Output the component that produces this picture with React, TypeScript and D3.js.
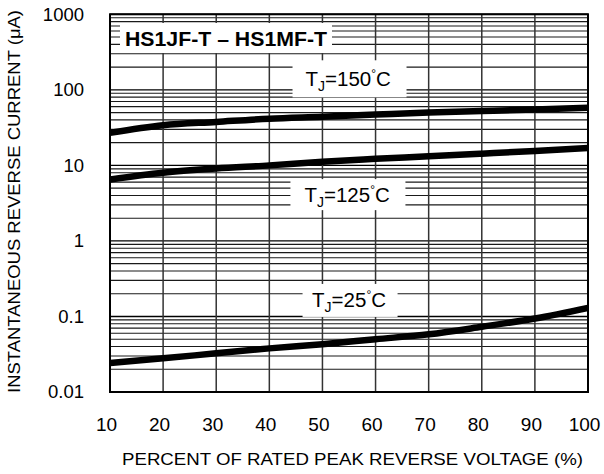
import React from "react";
import * as d3 from "d3";

const percents = [10, 20, 30, 40, 50, 60, 70, 80, 90, 100];
const tj150 = [27, 34, 37.6, 41.5, 44, 47, 50, 52.5, 55, 58];
const tj125 = [6.5, 8.0, 9.1, 10.0, 11.2, 12.2, 13.2, 14.3, 15.5, 17];
const tj25 = [0.0242, 0.0279, 0.0325, 0.0378, 0.043, 0.05, 0.058, 0.073, 0.094, 0.13];

const xTickValues = [10, 20, 30, 40, 50, 60, 70, 80, 90, 100];
const yTickValues = [0.01, 0.1, 1, 10, 100, 1000];
const yTickLabels = ["0.01", "0.1", "1", "10", "100", "1000"];

const title = "HS1JF-T – HS1MF-T";
const xTitle = "PERCENT OF RATED PEAK REVERSE VOLTAGE (%)";
const yTitle = "INSTANTANEOUS REVERSE CURRENT (μA)";

const seriesLabels = [
  { temp: "150", px: 55.1, val: 140, w: 114, h: 37, tx: -44, tw: 88 },
  { temp: "125", px: 54.8, val: 4.1, w: 115, h: 31, tx: -43.5, tw: 88 },
  { temp: "25", px: 55.2, val: 0.163, w: 95, h: 33, tx: -38, tw: 76 },
];

const W = 604;
const H = 474;
const left = 110;
const right = 588;
const top = 14.3;
const bottom = 392;
const FONT = "'Liberation Sans', Arial, sans-serif";

export default function App() {
  const x = d3.scaleLinear().domain([10, 100]).range([left, right]);
  const y = d3.scaleLog().domain([0.01, 1000]).range([bottom, top]);

  const minor: number[] = [];
  for (let e = -2; e < 3; e++) {
    for (let m = 1; m <= 9; m++) minor.push(m * Math.pow(10, e));
  }
  minor.push(1000);

  const line = d3
    .line<number>()
    .x((_, i) => x(percents[i]))
    .y((d) => y(d))
    .curve(d3.curveMonotoneX);

  const series = [tj150, tj125, tj25];

  return (
    <svg
      width={W}
      height={H}
      style={{ position: "absolute", left: 0, top: 0, background: "#fff" }}
      fontFamily={FONT}
    >
      <defs>
        <clipPath id="plotclip">
          <rect x={left} y={top} width={right - left} height={bottom - top} />
        </clipPath>
      </defs>
      <rect x={0} y={0} width={W} height={H} fill="#fff" />
      {minor.map((v, i) => {
        const major = Math.abs(Math.log10(v) - Math.round(Math.log10(v))) < 1e-9;
        return (
          <line
            key={"h" + i}
            x1={left}
            x2={right}
            y1={y(v)}
            y2={y(v)}
            stroke={major ? "#000" : "#1a1a1a"}
            strokeWidth={major ? 1.4 : 1.1}
          />
        );
      })}
      {xTickValues.map((v) => (
        <line
          key={"v" + v}
          x1={x(v)}
          x2={x(v)}
          y1={top}
          y2={bottom}
          stroke="#333"
          strokeWidth={1.5}
        />
      ))}
      {series.map((s, i) => (
        <path
          key={"s" + i}
          d={line(s) || ""}
          fill="none"
          stroke="#000"
          strokeWidth={6.5}
          strokeLinecap="butt"
          clipPath="url(#plotclip)"
        />
      ))}
      <rect x={120} y={23} width={212} height={30} fill="#fff" />
      <text x={125} y={46} fontSize={21} fontWeight="bold" fill="#000" textLength={202} lengthAdjust="spacingAndGlyphs">
        {title}
      </text>
      {seriesLabels.map((l) => {
        const cx = x(l.px);
        const cy = y(l.val);
        return (
          <g key={l.temp}>
            <rect x={cx - l.w / 2} y={cy - l.h / 2} width={l.w} height={l.h} fill="#fff" />
            <text x={cx + l.tx} y={cy + 7} fontSize={20.5} fill="#000">
              T
              <tspan fontSize={14} dy={5}>J</tspan>
              <tspan dy={-5}>={l.temp}</tspan>
              <tspan fontSize={12} dy={-8}>°</tspan>
              <tspan dy={8}>C</tspan>
            </text>
          </g>
        );
      })}
      <rect
        x={left}
        y={top}
        width={right - left}
        height={bottom - top}
        fill="none"
        stroke="#000"
        strokeWidth={2}
      />
      {yTickValues.map((v, i) => (
        <text
          key={"yl" + v}
          x={84}
          y={y(v)}
          dy="0.35em"
          fontSize={18.5}
          textAnchor="end"
          fill="#000"
        >
          {yTickLabels[i]}
        </text>
      ))}
      {xTickValues.map((v) => (
        <text key={"xl" + v} x={x(v) - 3.5} y={431} fontSize={19} textAnchor="middle" fill="#000">
          {v}
        </text>
      ))}
      <text x={122} y={465} fontSize={17} fill="#000" textLength={461} lengthAdjust="spacingAndGlyphs">
        {xTitle}
      </text>
      <text
        transform={`translate(20,393) rotate(-90)`}
        fontSize={16.5}
        fill="#000"
        textLength={383}
        lengthAdjust="spacingAndGlyphs"
      >
        {yTitle}
      </text>
    </svg>
  );
}
